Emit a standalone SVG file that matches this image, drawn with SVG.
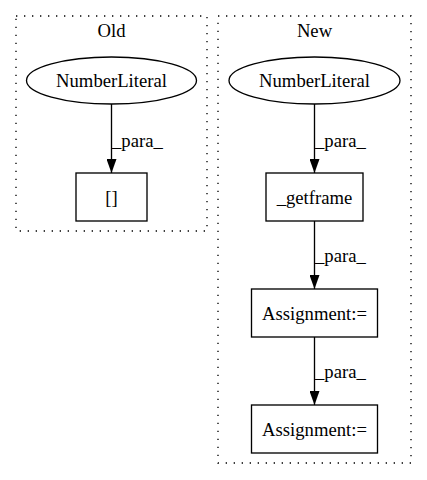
<svg xmlns="http://www.w3.org/2000/svg" width="427" height="480" viewBox="0 0 427 480">
<style>
text{font-family:"Liberation Serif","Times New Roman",serif;font-size:18.67px;fill:#000}
.c{fill:none;stroke:#000;stroke-width:1.33;stroke-dasharray:1.33,6.67}
.n{fill:none;stroke:#000;stroke-width:1.33}
.e{stroke:#000;stroke-width:1.33;fill:none}
</style>
<defs>
<marker id="a" viewBox="0 0 14 10" refX="14" refY="5" markerWidth="14" markerHeight="10" markerUnits="userSpaceOnUse" orient="auto">
<path d="M0,0L14,5L0,10Z" fill="#000"/>
</marker>
</defs>
<rect width="427" height="480" fill="#fff"/>
<g id="cluster_old">
<rect class="c" x="16" y="16" width="191" height="215"/>
<text x="111.5" y="37" text-anchor="middle">Old</text>
</g>
<g id="cluster_new">
<rect class="c" x="218" y="16" width="193" height="447"/>
<text x="314.5" y="37" text-anchor="middle">New</text>
</g>
<g id="old_numlit">
<ellipse class="n" cx="111.5" cy="80.5" rx="85" ry="23.5"/>
<text x="111.5" y="87" text-anchor="middle">NumberLiteral</text>
</g>
<g id="old_index">
<rect class="n" x="76" y="173" width="71" height="48"/>
<text x="111.5" y="203.5" text-anchor="middle">[]</text>
</g>
<g id="new_numlit">
<ellipse class="n" cx="314.5" cy="80.5" rx="85.5" ry="23.5"/>
<text x="314.5" y="87" text-anchor="middle">NumberLiteral</text>
</g>
<g id="new_getframe">
<rect class="n" x="266" y="173" width="97" height="48"/>
<text x="314.5" y="203.5" text-anchor="middle">_getframe</text>
</g>
<g id="new_assign1">
<rect class="n" x="251.5" y="289" width="126" height="48"/>
<text x="314.5" y="319.5" text-anchor="middle">Assignment:=</text>
</g>
<g id="new_assign2">
<rect class="n" x="251.5" y="405" width="126" height="48"/>
<text x="314.5" y="435.5" text-anchor="middle">Assignment:=</text>
</g>
<g id="edges">
<line class="e" x1="111.5" y1="104" x2="111.5" y2="173" marker-end="url(#a)"/>
<text x="112" y="147">_para_</text>
<line class="e" x1="314.5" y1="104" x2="314.5" y2="173" marker-end="url(#a)"/>
<text x="315" y="147">_para_</text>
<line class="e" x1="314.5" y1="221" x2="314.5" y2="289" marker-end="url(#a)"/>
<text x="315" y="262">_para_</text>
<line class="e" x1="314.5" y1="337" x2="314.5" y2="405" marker-end="url(#a)"/>
<text x="315" y="378">_para_</text>
</g>
</svg>
